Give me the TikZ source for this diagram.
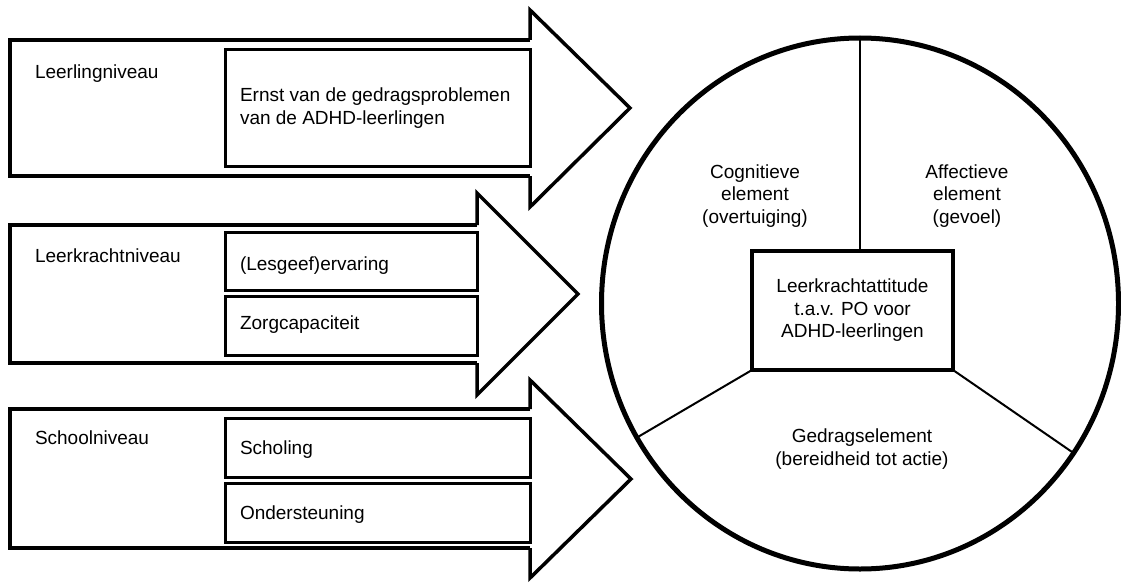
\documentclass[tikz,border=0pt]{standalone}
\usepackage{fontspec}
\setmainfont{Liberation Sans}
\usetikzlibrary{shapes.geometric}
\begin{document}
\begin{tikzpicture}[x=1pt,y=-1pt,
  every node/.style={font=\fontsize{19}{22.5}\selectfont, inner sep=0pt, outer sep=0pt},
  arrowhead/.style={line width=3.5pt, line join=miter},
  arrowbody/.style={line width=4.5pt, line join=miter},
  itembox/.style={draw, line width=3pt, rectangle, inner sep=0pt},
  lbl/.style={anchor=base west},
  divider/.style={line width=2pt}]
\useasboundingbox (0,0) rectangle (1121,583);

% ---- arrow 1 : Leerlingniveau
\draw[arrowhead] (530,40) -- (530,10) -- (630,108) -- (530,207) -- (530,176);
\draw[arrowbody] (530,40) -- (10,40) -- (10,176) -- (530,176);
\node[itembox, minimum width=305pt, minimum height=116pt] (b1) at (377.5,108) {};
\node[lbl] (l1) at (35,79) {Leerlingniveau};
\node[anchor=west, align=left] (t1) at (240,108) {Ernst van de gedragsproblemen\\van de ADHD-leerlingen};

% ---- arrow 2 : Leerkrachtniveau
\draw[arrowhead] (477,225) -- (477,193) -- (578,294) -- (477,395) -- (477,363);
\draw[arrowbody] (477,225) -- (10,225) -- (10,363) -- (477,363);
\node[itembox, minimum width=252pt, minimum height=58pt] (b2a) at (351,261) {};
\node[itembox, minimum width=252pt, minimum height=59pt] (b2b) at (351,325.5) {};
\node[lbl] (l2) at (35,262) {Leerkrachtniveau};
\node[lbl] (t2a) at (240,270) {(Lesgeef)ervaring};
\node[lbl] (t2b) at (240,329) {Zorgcapaciteit};

% ---- arrow 3 : Schoolniveau
\draw[arrowhead] (530,409) -- (530,380) -- (631,479) -- (530,578) -- (530,548);
\draw[arrowbody] (530,409) -- (10,409) -- (10,548) -- (530,548);
\node[itembox, minimum width=305pt, minimum height=59pt] (b3a) at (377.5,447.5) {};
\node[itembox, minimum width=305pt, minimum height=59pt] (b3b) at (377.5,512.5) {};
\node[lbl] (l3) at (35,444) {Schoolniveau};
\node[lbl] (t3a) at (240,454) {Scholing};
\node[lbl] (t3b) at (240,519) {Ondersteuning};

% ---- attitude circle
\node[ellipse, draw, line width=5pt, minimum width=517pt, minimum height=531pt] (E) at (860,303.5) {};
\node[draw, line width=4pt, fill=white, minimum width=201pt, minimum height=119pt, align=center] (B) at (852.5,310.5)
  {Leerkrachtattitude\\t.a.v. PO voor\\ADHD-leerlingen};
\draw[divider] (B.north -| E.north) -- (E.north);
\draw[divider] (B.south west) -- (E.211);
\draw[divider] (B.south east) -- (E.325);
\node[align=center] (cog) at (755,195.6) {Cognitieve\\element\\(overtuiging)};
\node[align=center] (aff) at (967,195.6) {Affectieve\\element\\(gevoel)};
\node[align=center] (ged) at (862,449) {Gedragselement\\(bereidheid tot actie)};
\end{tikzpicture}
\end{document}
